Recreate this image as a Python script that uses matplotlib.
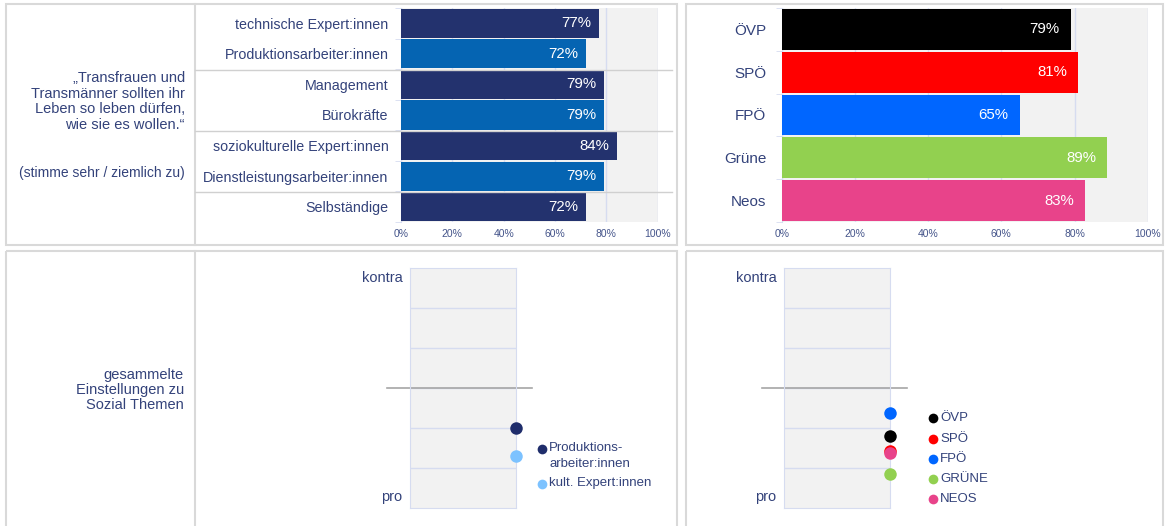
import matplotlib
matplotlib.use("Agg")
import matplotlib.pyplot as plt

plt.rcParams['font.family'] = ['Liberation Sans', 'DejaVu Sans']

# data
groups = ['technische Expert:innen', 'Produktionsarbeiter:innen', 'Management',
          'Bürokräfte', 'soziokulturelle Expert:innen',
          'Dienstleistungsarbeiter:innen', 'Selbständige']
group_values = [77, 72, 79, 79, 84, 79, 72]
group_colors = ['#23326e', '#0564b2', '#23326e', '#0564b2', '#23326e', '#0564b2', '#23326e']

parties = ['ÖVP', 'SPÖ', 'FPÖ', 'Grüne', 'Neos']
party_values = [79, 81, 65, 89, 83]
party_colors = ['#000000', '#ff0000', '#0066ff', '#92d050', '#e8438a']

social_groups = ['Produktions-\narbeiter:innen', 'kult. Expert:innen']
social_group_scores = [-1.0, -1.68]
social_group_colors = ['#1f2d6b', '#7cc2ff']

party_legend = ['ÖVP', 'SPÖ', 'FPÖ', 'GRÜNE', 'NEOS']
party_social_scores = [-1.2, -1.56, -0.62, -2.15, -1.62]

pct_ticks = [0, 20, 40, 60, 80, 100]

W, H = 1165, 526
TXT = '#33427a'
TICK = '#44548a'
GRID = '#d6dcf0'
BG = '#f2f2f2'
BORDER = '#d9d9d9'

fig = plt.figure(figsize=(W / 100, H / 100), dpi=100)


def px_axes(x0, y0, x1, y1, **kw):
    return fig.add_axes([x0 / W, 1 - y1 / H, (x1 - x0) / W, (y1 - y0) / H], **kw)


def bar_panel(ax, labels, values, colors):
    n = len(labels)
    pos = list(range(n))
    ax.set_facecolor(BG)
    ax.barh(pos, values, height=0.95, color=colors, zorder=3)
    for p, v in zip(pos, values):
        ax.text(v - 3, p, f'{v}%', ha='right', va='center', color='white',
                fontsize=10.8, zorder=4)
    ax.set_xlim(0, 100)
    ax.set_ylim(n - 0.5, -0.5)
    ax.set_xticks(pct_ticks)
    ax.set_xticklabels([f'{t}%' for t in pct_ticks])
    ax.set_yticks(pos)
    ax.set_yticklabels(labels)
    ax.set_yticks([p - 0.5 for p in range(n + 1)], minor=True)
    ax.grid(axis='x', color=GRID, lw=1, zorder=1)
    for s in ['top', 'right', 'bottom']:
        ax.spines[s].set_visible(False)
    ax.spines['left'].set_color(GRID)
    ax.tick_params(axis='x', length=0, labelsize=7.5, labelcolor=TICK, pad=5)
    ax.tick_params(axis='y', which='major', length=0, labelcolor=TXT, pad=9)
    ax.tick_params(axis='y', which='minor', length=4, color=GRID)


def dot_panel(ax, scores, colors, x_left, x_right):
    ax.set_facecolor(BG)
    ax.set_xlim(0, 1)
    ax.set_ylim(-3, 3)
    ax.set_xticks([])
    ax.set_yticks([-2, -1, 0, 1, 2])
    ax.tick_params(axis='y', length=0, labelleft=False)
    ax.grid(axis='y', color=GRID, lw=1, zorder=1)
    for s in ax.spines.values():
        s.set_color(GRID)
    ax.plot([x_left, x_right], [0, 0], color='#a6a6a6', lw=1.2,
            transform=ax.get_yaxis_transform(), clip_on=False, zorder=2)
    for sc, c in zip(scores, colors):
        ax.plot(1, sc, 'o', ms=9, color=c, mec='none', clip_on=False, zorder=5)
    ax.text(-0.075, 0.96, 'kontra', transform=ax.transAxes, ha='right', va='center',
            fontsize=10.5, color=TXT)
    ax.text(-0.075, 0.046, 'pro', transform=ax.transAxes, ha='right', va='center',
            fontsize=10.5, color=TXT)


# top left: occupational groups
ax1 = px_axes(401, 8, 657.7, 222)
bar_panel(ax1, groups, group_values, group_colors)
ax1.tick_params(axis='y', which='major', labelsize=10.3)

# top right: parties
ax2 = px_axes(781.7, 8, 1147.7, 222)
bar_panel(ax2, parties, party_values, party_colors)
ax2.tick_params(axis='y', which='major', labelsize=11, pad=11)

# bottom left: dot chart groups
ax3 = px_axes(410.3, 268.3, 515.7, 508.3)
dot_panel(ax3, social_group_scores, social_group_colors, -0.221, 1.155)

# bottom right: dot chart parties
ax4 = px_axes(784.3, 268.3, 889.7, 508.3)
dot_panel(ax4, party_social_scores, party_colors, -0.214, 1.161)

# overlay for frames, side texts and legends (pixel coordinates)
ov = fig.add_axes([0, 0, 1, 1])
ov.set_xlim(0, W)
ov.set_ylim(H, 0)
ov.axis('off')
ov.patch.set_visible(False)

for (x0, y0, x1, y1) in [(6, 4, 677, 245), (686, 4, 1163, 245),
                         (6, 251, 677, 531), (686, 251, 1163, 531)]:
    ov.add_patch(plt.Rectangle((x0, y0), x1 - x0, y1 - y0, fill=False,
                               ec=BORDER, lw=1.5))
ov.plot([194.5, 194.5], [4, 245], color=BORDER, lw=1.5)
ov.plot([194.5, 194.5], [251, 531], color=BORDER, lw=1.5)
for y in [69.5, 130.5, 191.5]:
    ov.plot([194.5, 672], [y, y], color='#d0d0d0', lw=1)

ov.text(185, 101.5, '„Transfrauen und\nTransmänner sollten ihr\nLeben so leben dürfen,\nwie sie es wollen.“',
        ha='right', va='center', fontsize=10.5, color=TXT, linespacing=1.15)
ov.text(185, 173, '(stimme sehr / ziemlich zu)', ha='right', va='center',
        fontsize=10, color=TXT)
ov.text(184, 390, 'gesammelte\nEinstellungen zu\nSozial Themen', ha='right', va='center',
        fontsize=10.5, color=TXT, linespacing=1.05)

# legends
for (y, name, c) in zip([448.7, 484.3], social_groups, social_group_colors):
    ov.plot(542.3, y, 'o', ms=7, color=c, mec='none')
    ov.text(549, y - 7, name, ha='left', va='top', fontsize=9.5, color=TXT,
            linespacing=1.45)
for (y, name, c) in zip([418.3, 439, 459.3, 479.3, 499.3], party_legend, party_colors):
    ov.plot(933.3, y, 'o', ms=7, color=c, mec='none')
    ov.text(940, y, name, ha='left', va='center', fontsize=9.5, color=TXT)

fig.savefig('out.png', dpi=100)
